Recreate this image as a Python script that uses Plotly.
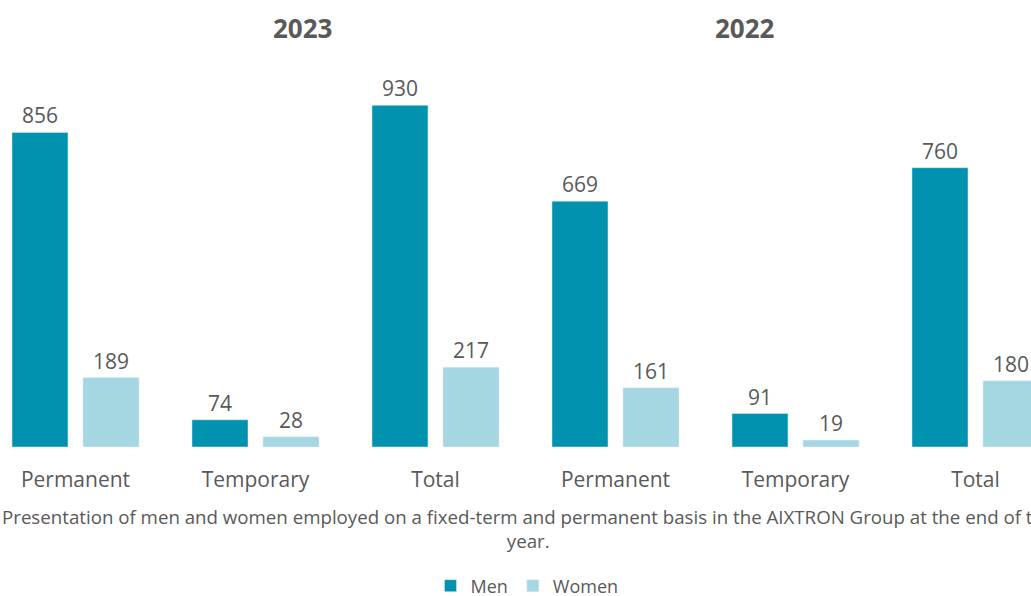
import plotly.graph_objects as go

# ---- data ----
years = ["2023", "2022"]
types = ["Permanent", "Temporary", "Total"]
categories = [t for _ in years for t in types]
men = [856, 74, 930, 669, 91, 760]
women = [189, 28, 217, 161, 19, 180]
caption = ("Presentation of men and women employed on a fixed-term and permanent basis "
           "in the AIXTRON Group at the end of the<br>year.")

MEN_C = "#0092AF"
WOMEN_C = "#A4D7E2"
TXT = "#595959"
FONT = "Open Sans"

x = list(range(len(categories)))

W, H = 1031, 596
plot_bottom = 447
px_per_unit = 0.3675
ymax = plot_bottom / px_per_unit
cat0 = 75.5     # pixel centre of first category
step = 180.0    # pixels per category

fig = go.Figure()
fig.add_trace(go.Bar(x=x, y=men, name="Men", marker_color=MEN_C,
                     text=men, textposition="outside",
                     textfont=dict(size=21, color=TXT, family=FONT), cliponaxis=False))
fig.add_trace(go.Bar(x=x, y=women, name="Women", marker_color=WOMEN_C,
                     text=women, textposition="outside",
                     textfont=dict(size=21, color=TXT, family=FONT), cliponaxis=False))

fig.update_layout(
    width=W, height=H,
    barmode="group", bargap=0.211, bargroupgap=0.211,
    margin=dict(l=0, r=0, t=0, b=H - plot_bottom, autoexpand=False),
    paper_bgcolor="white", plot_bgcolor="white",
    font=dict(family=FONT, color=TXT),
    showlegend=True,
    legend=dict(orientation="h", x=527 / W, xanchor="center",
                y=(plot_bottom - 586) / plot_bottom,
                yanchor="middle", font=dict(size=18, color=TXT, family=FONT),
                traceorder="normal"),
)
fig.update_xaxes(
    tickvals=x, ticktext=categories,
    range=[-cat0 / step, (W - cat0) / step],
    showgrid=False, zeroline=False, showline=False, ticks="",
    tickfont=dict(size=21, color=TXT, family=FONT),
    ticklabelstandoff=18,
)
fig.update_yaxes(range=[0, ymax], visible=False)

for yr, px in zip(years, [302, 745]):
    fig.add_annotation(x=(px - cat0) / step, xref="x",
                       y=1 - 28 / plot_bottom, yref="paper", yanchor="middle",
                       text=f"<b>{yr}</b>", showarrow=False,
                       font=dict(size=26, color=TXT, family=FONT))

fig.add_annotation(x=528 / W, xref="paper",
                   y=(plot_bottom - 528) / plot_bottom, yref="paper",
                   xanchor="center", yanchor="middle", text=caption, showarrow=False,
                   align="center", font=dict(size=18.7, color=TXT, family=FONT))

fig.write_html(
    "out.html",
    config={"displayModeBar": False},
    post_script="document.body.style.margin='0';document.body.style.overflow='hidden';",
)
